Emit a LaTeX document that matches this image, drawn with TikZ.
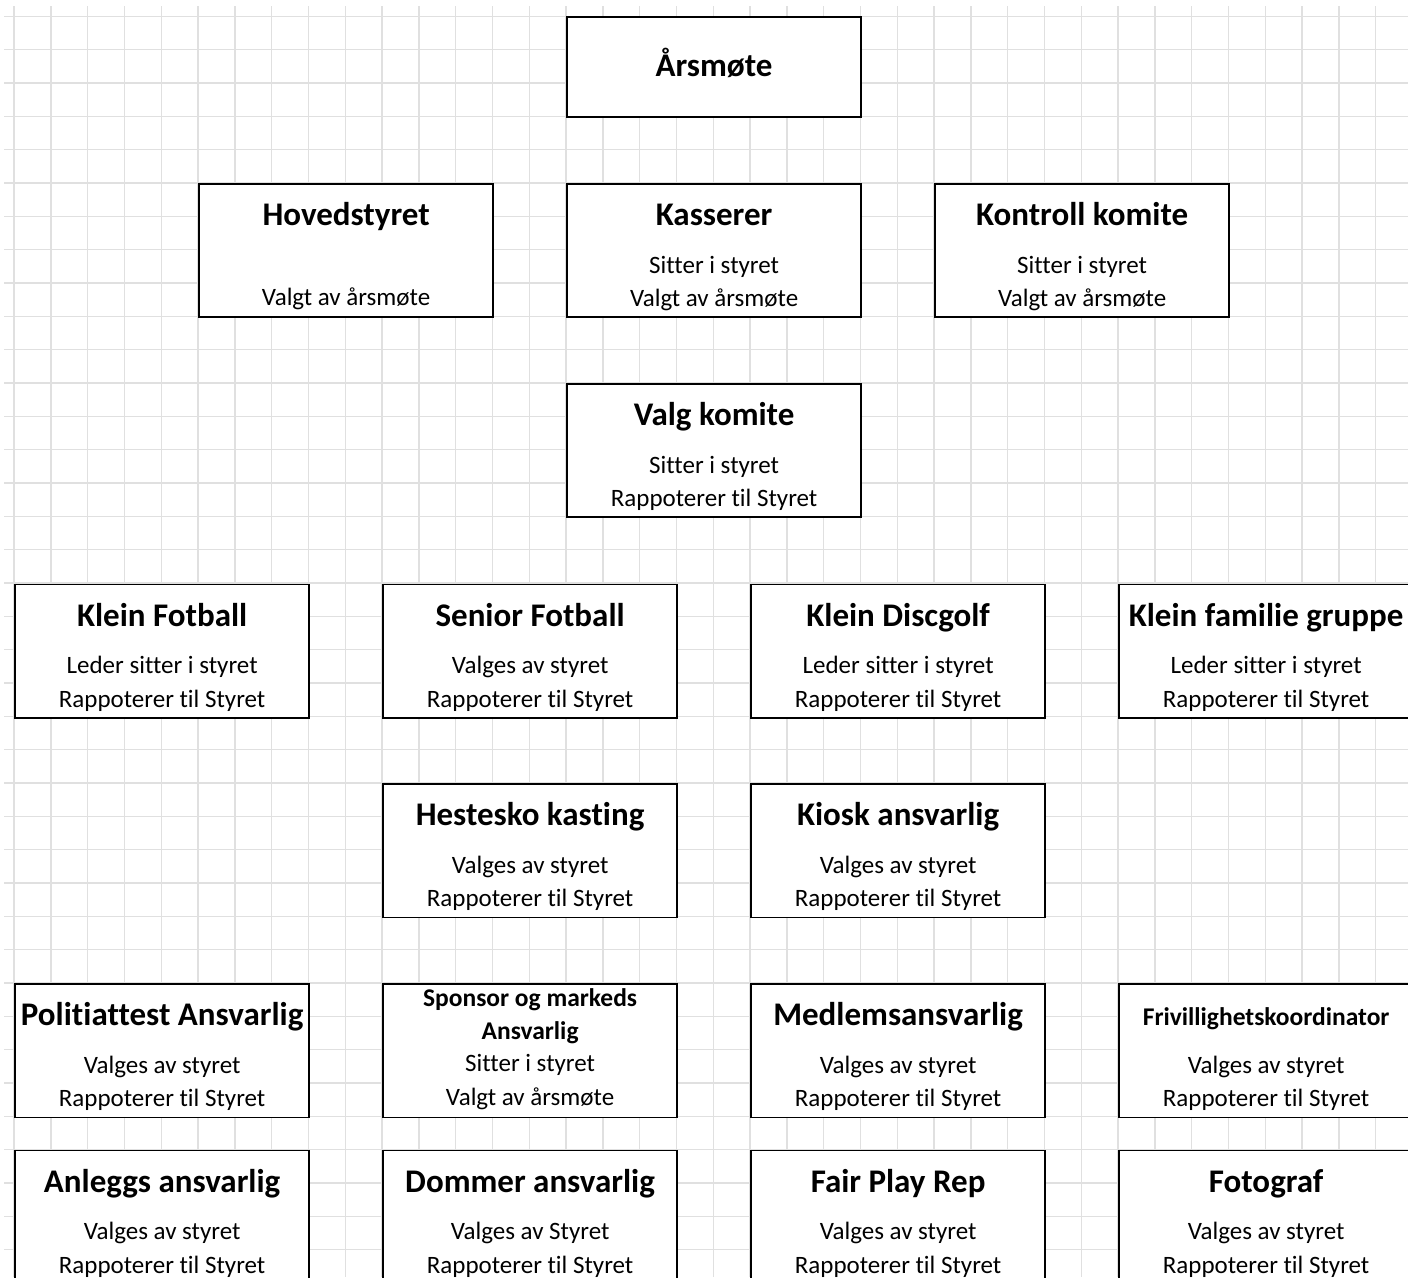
\documentclass[tikz,border=0pt]{standalone}
\usepackage{fontspec}
\setmainfont[Ligatures=NoCommon]{Carlito}
\usetikzlibrary{calc}
\tikzset{
  gridline/.style={draw=black!12, line width=1.4pt},
  orgbox/.style={draw=black, line width=1.8pt, fill=white, minimum width=294.4pt, minimum height=133.3pt, anchor=north west, inner sep=0pt},
  ttl/.style={font=\fontsize{33}{36}\selectfont\bfseries, anchor=base, inner sep=0pt},
  ttlsmall/.style={font=\fontsize{25.5}{28}\selectfont\bfseries, anchor=base, inner sep=0pt},
  sub/.style={font=\fontsize{25}{28}\selectfont, anchor=base, inner sep=0pt}
}
\newcommand\orgunit[6]{%
  \node[orgbox] (#1) at (#2,#3) {};
  \node[ttl] (#1-t) at ($(#1.north)+(0,42.5)$) {#4};
  \node[sub] (#1-a) at ($(#1.north)+(0,90)$) {#5};
  \node[sub] (#1-b) at ($(#1.north)+(0,123.5)$) {#6};
}
\begin{document}
\begin{tikzpicture}[x=1pt,y=-1pt]
\useasboundingbox (0,0) rectangle (1408,1277);
\clip (0,0) rectangle (1408,1277);
\fill[white] (0,0) rectangle (1408,1277);
% spreadsheet grid
\foreach \k in {0,...,37} \draw[gridline] ({14+36.8*\k},6) -- ({14+36.8*\k},1277);
\foreach \j in {0,...,37} \draw[gridline] (4,{16.33+33.333*\j}) -- (1408,{16.33+33.333*\j});

% Årsmøte
\node[orgbox, minimum height=100pt] (aarsmote) at (566,16.3) {};
\node[ttl] (aarsmote-t) at ($(aarsmote.north)+(0,59.7)$) {Årsmøte};

% row 2
\node[orgbox] (hoved) at (198,183) {};
\node[ttl] (hoved-t) at ($(hoved.north)+(0,42.5)$) {Hovedstyret};
\node[sub] (hoved-b) at ($(hoved.north)+(0,122.5)$) {Valgt av årsmøte};
\orgunit{kass}{566}{183}{Kasserer}{Sitter i styret}{Valgt av årsmøte}
\orgunit{kontroll}{934}{183}{Kontroll komite}{Sitter i styret}{Valgt av årsmøte}

% Valg komite
\orgunit{valg}{566}{383}{Valg komite}{Sitter i styret}{Rappoterer til Styret}

% row 4
\orgunit{kfot}{14}{583.5}{Klein Fotball}{Leder sitter i styret}{Rappoterer til Styret}
\orgunit{sfot}{382}{583.5}{Senior Fotball}{Valges av styret}{Rappoterer til Styret}
\orgunit{kdisc}{750}{583.5}{Klein Discgolf}{Leder sitter i styret}{Rappoterer til Styret}
\orgunit{kfam}{1118}{583.5}{Klein familie gruppe}{Leder sitter i styret}{Rappoterer til Styret}

% row 5
\orgunit{hest}{382}{783.3}{Hestesko kasting}{Valges av styret}{Rappoterer til Styret}
\orgunit{kiosk}{750}{783.3}{Kiosk ansvarlig}{Valges av styret}{Rappoterer til Styret}

% row 6
\orgunit{politi}{14}{983.3}{Politiattest Ansvarlig}{Valges av styret}{Rappoterer til Styret}
\node[orgbox] (sponsor) at (382,983.3) {};
\node[ttlsmall] (sponsor-t1) at ($(sponsor.north)+(0,23)$) {Sponsor og markeds};
\node[ttlsmall] (sponsor-t2) at ($(sponsor.north)+(0,56.5)$) {Ansvarlig};
\node[sub] (sponsor-a) at ($(sponsor.north)+(0,88.5)$) {Sitter i styret};
\node[sub] (sponsor-b) at ($(sponsor.north)+(0,122)$) {Valgt av årsmøte};
\orgunit{medlem}{750}{983.3}{Medlemsansvarlig}{Valges av styret}{Rappoterer til Styret}
\node[orgbox] (frivillig) at (1118,983.3) {};
\node[ttlsmall] (frivillig-t) at ($(frivillig.north)+(0,42)$) {Frivillighetskoordinator};
\node[sub] (frivillig-a) at ($(frivillig.north)+(0,90)$) {Valges av styret};
\node[sub] (frivillig-b) at ($(frivillig.north)+(0,123.5)$) {Rappoterer til Styret};

% row 7
\orgunit{anlegg}{14}{1149.5}{Anleggs ansvarlig}{Valges av styret}{Rappoterer til Styret}
\orgunit{dommer}{382}{1149.5}{Dommer ansvarlig}{Valges av Styret}{Rappoterer til Styret}
\orgunit{fair}{750}{1149.5}{Fair Play Rep}{Valges av styret}{Rappoterer til Styret}
\orgunit{foto}{1118}{1149.5}{Fotograf}{Valges av styret}{Rappoterer til Styret}
\end{tikzpicture}
\end{document}
